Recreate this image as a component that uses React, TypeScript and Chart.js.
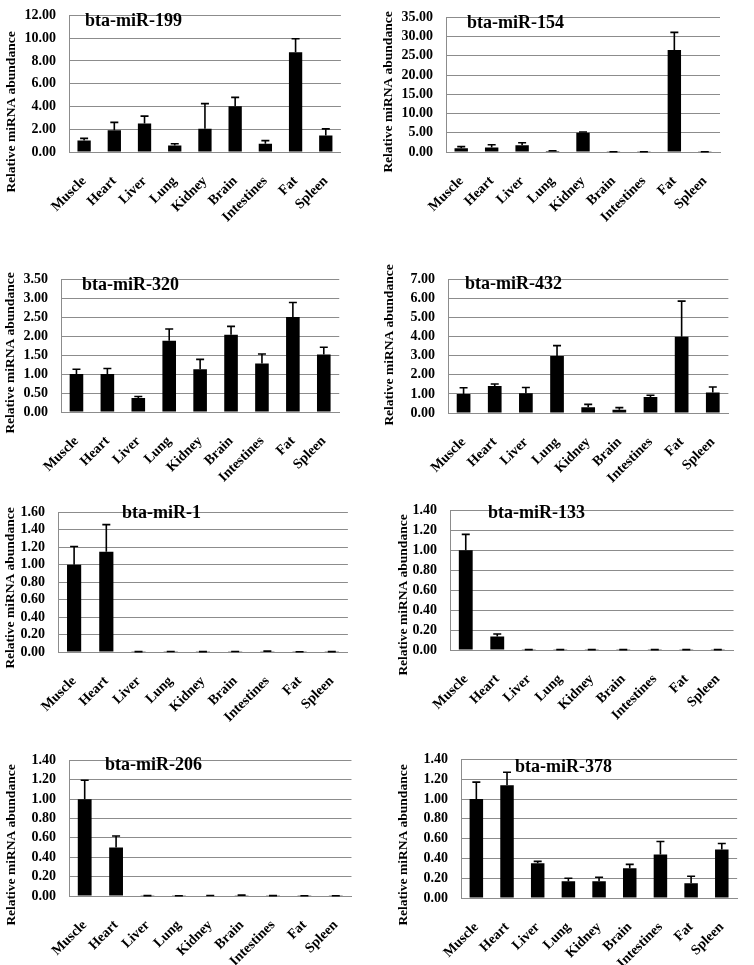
import React, { useEffect, useRef } from "react";
import { Chart, registerables } from "chart.js";
Chart.register(...registerables);

const categories = ["Muscle", "Heart", "Liver", "Lung", "Kidney", "Brain", "Intestines", "Fat", "Spleen"];

const mir199Values = [1.0, 1.9, 2.5, 0.58, 2.05, 4.03, 0.72, 8.77, 1.45];
const mir199Errors = [0.2, 0.7, 0.65, 0.14, 2.2, 0.77, 0.28, 1.18, 0.58];

const mir154Values = [1.0, 1.15, 1.73, 0.25, 5.0, 0.05, 0.05, 26.5, 0.05];
const mir154Errors = [0.4, 0.75, 0.67, 0.08, 0.2, 0.02, 0.02, 4.6, 0.02];

const mir320Values = [1.0, 1.0, 0.37, 1.88, 1.13, 2.04, 1.28, 2.51, 1.52];
const mir320Errors = [0.13, 0.15, 0.04, 0.31, 0.26, 0.22, 0.25, 0.38, 0.19];

const mir432Values = [0.99, 1.41, 1.04, 2.98, 0.3, 0.17, 0.84, 3.99, 1.08];
const mir432Errors = [0.33, 0.11, 0.3, 0.55, 0.15, 0.11, 0.09, 1.87, 0.28];

const mir1Values = [1.0, 1.15, 0.003, 0.004, 0.003, 0.004, 0.008, 0.002, 0.003];
const mir1Errors = [0.21, 0.31, 0.001, 0.001, 0.001, 0.001, 0.002, 0.001, 0.001];

const mir133Values = [1.0, 0.136, 0.003, 0.003, 0.003, 0.003, 0.003, 0.003, 0.003];
const mir133Errors = [0.16, 0.024, 0.001, 0.001, 0.001, 0.001, 0.001, 0.001, 0.001];

const mir206Values = [1.0, 0.5, 0.003, 0.002, 0.004, 0.008, 0.003, 0.002, 0.002];
const mir206Errors = [0.195, 0.12, 0.001, 0.001, 0.001, 0.001, 0.001, 0.001, 0.001];

const mir378Values = [1.0, 1.14, 0.35, 0.17, 0.17, 0.3, 0.44, 0.15, 0.49];
const mir378Errors = [0.17, 0.13, 0.02, 0.03, 0.04, 0.04, 0.13, 0.07, 0.06];

const panelTitles = ["bta-miR-199", "bta-miR-154", "bta-miR-320", "bta-miR-432", "bta-miR-1", "bta-miR-133", "bta-miR-206", "bta-miR-378"];
const panelValues = [mir199Values, mir154Values, mir320Values, mir432Values, mir1Values, mir133Values, mir206Values, mir378Values];
const panelErrors = [mir199Errors, mir154Errors, mir320Errors, mir432Errors, mir1Errors, mir133Errors, mir206Errors, mir378Errors];
const yMaxima = [12, 35, 3.5, 7, 1.6, 1.4, 1.4, 1.4];
const yStepSizes = [2, 5, 0.5, 1, 0.2, 0.2, 0.2, 0.2];
const yAxisTitle = "Relative miRNA abundance";

// layout (page pixel coordinates): plot area, panel-title anchor, y-title centre
const panelLayout = [
  { L: 69, T: 8, R: 353, B: 152, tx: 85, ty: 26, yx: 12, yy: 112 },
  { L: 446, T: 10, R: 732, B: 152, tx: 467, ty: 28, yx: 389, yy: 92 },
  { L: 61, T: 272, R: 351, B: 412, tx: 82, ty: 290, yx: 11, yy: 353 },
  { L: 448, T: 272, R: 740, B: 413, tx: 465, ty: 289, yx: 390, yy: 345 },
  { L: 58, T: 505, R: 359, B: 652, tx: 122, ty: 518, yx: 11, yy: 588 },
  { L: 450, T: 503, R: 745, B: 650, tx: 488, ty: 518, yx: 404, yy: 595 },
  { L: 69, T: 753, R: 363, B: 896, tx: 105, ty: 770, yx: 12, yy: 845 },
  { L: 461, T: 752, R: 749, B: 898, tx: 515, ty: 772, yx: 404, yy: 845 },
];

const FONT = "'Liberation Serif', 'Times New Roman', serif";
const GRID = "#8c8c8c";
const PAD_L = 72;
const PAD_T = 14;
const PAD_R = 6;
const PAD_B = 80;

const overlayPlugin = {
  id: "overlay",
  afterDatasetsDraw(chart: any, _args: any, opts: any) {
    const { ctx } = chart;
    const x = chart.scales.x;
    const y = chart.scales.y;
    ctx.save();
    ctx.strokeStyle = "#000";
    ctx.lineWidth = 1.6;
    opts.values.forEach((v: number, i: number) => {
      const px = x.getPixelForValue(i);
      const y0 = y.getPixelForValue(v);
      const y1 = y.getPixelForValue(v + opts.errors[i]);
      ctx.beginPath();
      ctx.moveTo(px, y0);
      ctx.lineTo(px, y1);
      ctx.moveTo(px - 4, y1);
      ctx.lineTo(px + 4, y1);
      ctx.stroke();
    });
    ctx.restore();
  },
  afterDraw(chart: any, _args: any, opts: any) {
    const { ctx } = chart;
    ctx.save();
    ctx.fillStyle = "#000";
    ctx.font = `bold 18px ${FONT}`;
    ctx.textAlign = "left";
    ctx.textBaseline = "alphabetic";
    ctx.fillText(opts.title, opts.tx, opts.ty);
    ctx.translate(opts.yx, opts.yy);
    ctx.rotate(-Math.PI / 2);
    ctx.font = `bold 13.5px ${FONT}`;
    ctx.textAlign = "center";
    ctx.textBaseline = "middle";
    ctx.fillText(yAxisTitle, 0, 0);
    ctx.restore();
  },
};

function Panel({ idx }: { idx: number }) {
  const ref = useRef<HTMLCanvasElement>(null);
  const lay = panelLayout[idx];
  const left = lay.L - PAD_L;
  const top = lay.T - PAD_T;
  const width = lay.R - lay.L + PAD_L + PAD_R;
  const height = lay.B - lay.T + PAD_T + PAD_B;

  useEffect(() => {
    if (!ref.current) return;
    const chart = new Chart(ref.current, {
      type: "bar",
      data: {
        labels: categories,
        datasets: [
          {
            data: panelValues[idx],
            backgroundColor: "#000",
            borderWidth: 0,
            barPercentage: 0.44,
            categoryPercentage: 1,
          },
        ],
      },
      options: {
        responsive: false,
        animation: false,
        layout: { padding: { left: 0, top: PAD_T, right: PAD_R, bottom: 0 } },
        plugins: {
          legend: { display: false },
          tooltip: { enabled: false },
          overlay: {
            values: panelValues[idx],
            errors: panelErrors[idx],
            title: panelTitles[idx],
            tx: lay.tx - left,
            ty: lay.ty - top,
            yx: lay.yx - left,
            yy: lay.yy - top,
          },
        } as any,
        scales: {
          x: {
            grid: { display: false, drawTicks: false },
            border: { display: true, color: GRID, width: 1 },
            ticks: {
              autoSkip: false,
              minRotation: 45,
              maxRotation: 45,
              padding: 21,
              color: "#000",
              font: { family: FONT, size: 14, weight: "bold" },
            },
            afterFit: (s: any) => {
              s.height = PAD_B;
            },
          },
          y: {
            min: 0,
            max: yMaxima[idx],
            grid: { color: GRID, drawTicks: false, lineWidth: 1 },
            border: { display: true, color: GRID, width: 1 },
            ticks: {
              autoSkip: false,
              stepSize: yStepSizes[idx],
              padding: 13,
              color: "#000",
              font: { family: FONT, size: 14, weight: "bold" },
              callback: (v: any) => Number(v).toFixed(2),
            },
            afterFit: (s: any) => {
              s.width = PAD_L;
            },
          },
        },
      },
      plugins: [overlayPlugin],
    });
    return () => chart.destroy();
  }, [idx]);

  return (
    <canvas
      ref={ref}
      width={width}
      height={height}
      style={{ position: "absolute", left, top, width, height }}
    />
  );
}

export default function App() {
  return (
    <div
      style={{
        position: "absolute",
        left: 0,
        top: 0,
        width: 754,
        height: 965,
        background: "#fff",
        overflow: "hidden",
      }}
    >
      {panelTitles.map((_, i) => (
        <Panel key={i} idx={i} />
      ))}
    </div>
  );
}
